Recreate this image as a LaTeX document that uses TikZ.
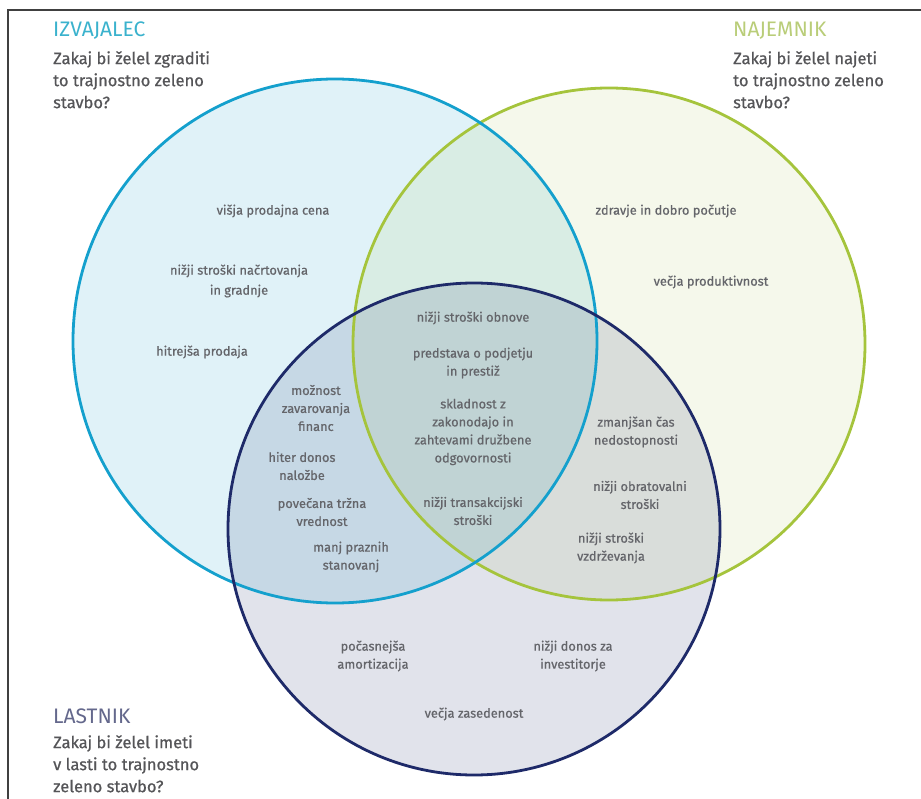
\documentclass[tikz,border=0pt]{standalone}
\usepackage{fontspec}
\setmainfont{Fira Sans}
\newfontfamily\heavyfont{Fira Sans}[FakeBold=0.7]
\begin{document}
\begin{tikzpicture}[x=1pt,y=-1pt,
  lbl/.style={font=\heavyfont\fontsize{12.8}{18}\selectfont, text=txtgray, align=center, inner sep=0pt},
  ttl/.style={font=\fontsize{21}{23}\selectfont, anchor=west, inner sep=0pt},
  qst/.style={font=\heavyfont\fontsize{16.5}{22}\selectfont, text=qgray, align=left, anchor=north west, inner sep=0pt}
]
\definecolor{txtgray}{RGB}{100,101,106}
\definecolor{qgray}{RGB}{85,85,88}
\definecolor{cblue}{RGB}{20,160,205}
\definecolor{cgreen}{RGB}{165,196,60}
\definecolor{cdark}{RGB}{30,42,105}
\definecolor{tblue}{RGB}{58,178,205}
\definecolor{tgreen}{RGB}{185,205,120}
\definecolor{tdark}{RGB}{100,104,140}
\useasboundingbox (0,0) rectangle (921,799);
\fill[white] (0,0) rectangle (921,799);
% frame
\draw[line width=1.6pt, black!75] (8,799) -- (8,10) -- (921,10);
% circle centres
\coordinate (cb) at (335,341);
\coordinate (cg) at (609,344);
\coordinate (cd) at (474,529);
% fills
\fill[cblue, fill opacity=0.13] (cb) circle[radius=262];
\fill[cgreen, fill opacity=0.10] (cg) circle[radius=256];
\fill[cdark, fill opacity=0.13] (cd) circle[radius=246];
% strokes
\draw[cgreen, line width=2.8pt] (cg) circle[radius=256];
\draw[cblue, line width=2.8pt] (cb) circle[radius=262];
\draw[cdark, line width=2.8pt] (cd) circle[radius=246];
% titles
\node[ttl, text=tblue] (t1) at (53,31) {IZVAJALEC};
\node[qst] (q1) at (53,51) {Zakaj bi želel zgraditi\\to trajnostno zeleno\\stavbo?};
\node[ttl, text=tgreen] (t2) at (733,31) {NAJEMNIK};
\node[qst] (q2) at (733,51) {Zakaj bi želel najeti\\to trajnostno zeleno\\stavbo?};
\node[ttl, text=tdark] (t3) at (53,716) {LASTNIK};
\node[qst] (q3) at (53,735) {Zakaj bi želel imeti\\v lasti to trajnostno\\zeleno stavbo?};
% labels
\node[lbl] (l1) at (273,211) {višja prodajna cena};
\node[lbl] (l2) at (239,281) {nižji stroški načrtovanja\\[2pt]in gradnje};
\node[lbl] (l3) at (202,352) {hitrejša prodaja};
\node[lbl] (l4) at (666,211) {zdravje in dobro počutje};
\node[lbl] (l5) at (711,282) {večja produktivnost};
\node[lbl] (l6) at (473,318) {nižji stroški obnove};
\node[lbl] (l7) at (473,363) {predstava o podjetju\\in prestiž};
\node[lbl] (l8) at (473,432) {skladnost z\\zakonodajo in\\zahtevami družbene\\odgovornosti};
\node[lbl] (l9) at (473,511) {nižji transakcijski\\stroški};
\node[lbl] (l10) at (316,408) {možnost\\zavarovanja\\financ};
\node[lbl] (l11) at (302,466) {hiter donos\\naložbe};
\node[lbl] (l12) at (322,512) {povečana tržna\\vrednost};
\node[lbl] (l13) at (351,557) {manj praznih\\stanovanj};
\node[lbl] (l14) at (636,432) {zmanjšan čas\\nedostopnosti};
\node[lbl] (l15) at (640,495) {nižji obratovalni\\stroški};
\node[lbl] (l16) at (611,548) {nižji stroški\\vzdrževanja};
\node[lbl] (l17) at (373,656) {počasnejša\\amortizacija};
\node[lbl] (l18) at (573,656) {nižji donos za\\investitorje};
\node[lbl] (l19) at (474,714) {večja zasedenost};
\end{tikzpicture}
\end{document}
